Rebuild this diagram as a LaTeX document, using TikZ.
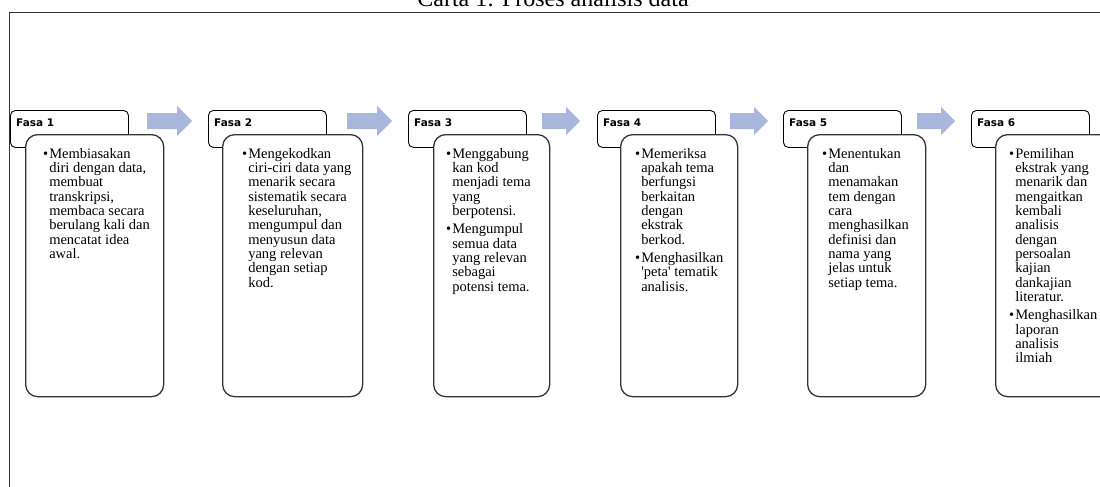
\documentclass[tikz,border=0pt]{standalone}
\usepackage{fontspec}
\setmainfont{Liberation Serif}
\newfontfamily\fasafont{DejaVu Sans}
\definecolor{fasablue}{HTML}{A9B7DC}
\definecolor{fasaline}{HTML}{333333}

\begin{document}
\begin{tikzpicture}[
    x=1pt, y=-1pt,
    fasa_head/.style={rectangle, rounded corners=5pt, draw=black, line width=0.9pt, fill=white, anchor=north west, minimum width=118pt, minimum height=37pt, inner sep=0pt},
    fasa_label/.style={anchor=base west, inner sep=0pt, font=\fasafont\bfseries\fontsize{10.5}{12}\selectfont},
    fasa_body/.style={rectangle, rounded corners=12pt, draw=fasaline, line width=1.3pt, fill=white, anchor=north west, minimum height=262pt, inner sep=0pt},
    fasa_text/.style={anchor=base west, inner sep=0pt, font=\fontsize{14.5}{14.3}\selectfont},
    fasa_arrow/.style={fill=fasablue}
]
\useasboundingbox (0,0) rectangle (1100,487);

% tajuk dan bingkai
\node[anchor=base, inner sep=0pt] (title) at (553,7) {\fontsize{24}{28}\selectfont Carta 1: Proses analisis data};
\draw[line width=1.6pt, fasaline] (9.5,500) -- (9.5,12.5) -- (1110,12.5);

% kotak tajuk fasa
\node[fasa_head] (h1) at (10,110) {};
\node[fasa_head] (h2) at (208,110) {};
\node[fasa_head] (h3) at (408,110) {};
\node[fasa_head] (h4) at (597,110) {};
\node[fasa_head] (h5) at (783,110) {};
\node[fasa_head] (h6) at (971,110) {};

\node[fasa_label] (l1) at (16,126) {Fasa 1};
\node[fasa_label] (l2) at (214,126) {Fasa 2};
\node[fasa_label] (l3) at (414,126) {Fasa 3};
\node[fasa_label] (l4) at (603,126) {Fasa 4};
\node[fasa_label] (l5) at (789,126) {Fasa 5};
\node[fasa_label] (l6) at (977,126) {Fasa 6};

% anak panah antara fasa
\fill[fasa_arrow] (147,113) -- (177,113) -- (177,106) -- (192,121) -- (177,136) -- (177,129) -- (147,129) -- cycle;
\fill[fasa_arrow] (347,113) -- (377,113) -- (377,106) -- (392,121) -- (377,136) -- (377,129) -- (347,129) -- cycle;
\fill[fasa_arrow] (542,113) -- (566,113) -- (566,107) -- (580,121) -- (566,135) -- (566,129) -- (542,129) -- cycle;
\fill[fasa_arrow] (730,113) -- (754,113) -- (754,107) -- (768,121) -- (754,135) -- (754,129) -- (730,129) -- cycle;
\fill[fasa_arrow] (917,113) -- (941,113) -- (941,107) -- (955,121) -- (941,135) -- (941,129) -- (917,129) -- cycle;

% kotak isi fasa
\node[fasa_body, minimum width=138pt] (b1) at (25,134) {};
\node[fasa_body, minimum width=140pt] (b2) at (222,134) {};
\node[fasa_body, minimum width=116pt] (b3) at (433,134) {};
\node[fasa_body, minimum width=117pt] (b4) at (620,134) {};
\node[fasa_body, minimum width=118pt] (b5) at (807,134) {};
\node[fasa_body, minimum width=140pt] (b6) at (995,134) {};

% teks isi
\node[fasa_text] (t1) at (43,158) {\begin{tabular}[t]{@{}l@{\hspace{1pt}}l@{}}
\textbullet & Membiasakan\\
 & diri dengan data,\\
 & membuat\\
 & transkripsi,\\
 & membaca secara\\
 & berulang kali dan\\
 & mencatat idea\\
 & awal.
\end{tabular}};
\node[fasa_text] (t2) at (242,158) {\begin{tabular}[t]{@{}l@{\hspace{1pt}}l@{}}
\textbullet & Mengekodkan\\
 & ciri-ciri data yang\\
 & menarik secara\\
 & sistematik secara\\
 & keseluruhan,\\
 & mengumpul dan\\
 & menyusun data\\
 & yang relevan\\
 & dengan setiap\\
 & kod.
\end{tabular}};
\node[fasa_text] (t3) at (446,158) {\begin{tabular}[t]{@{}l@{\hspace{1pt}}l@{}}
\textbullet & Menggabung\\
 & kan kod\\
 & menjadi tema\\
 & yang\\
 & berpotensi.\\[4pt]
\textbullet & Mengumpul\\
 & semua data\\
 & yang relevan\\
 & sebagai\\
 & potensi tema.
\end{tabular}};
\node[fasa_text] (t4) at (635,158) {\begin{tabular}[t]{@{}l@{\hspace{1pt}}l@{}}
\textbullet & Memeriksa\\
 & apakah tema\\
 & berfungsi\\
 & berkaitan\\
 & dengan\\
 & ekstrak\\
 & berkod.\\[4pt]
\textbullet & Menghasilkan\\
 & \textquotesingle peta\textquotesingle{} tematik\\
 & analisis.
\end{tabular}};
\node[fasa_text] (t5) at (822,158) {\begin{tabular}[t]{@{}l@{\hspace{1pt}}l@{}}
\textbullet & Menentukan\\
 & dan\\
 & menamakan\\
 & tem dengan\\
 & cara\\
 & menghasilkan\\
 & definisi dan\\
 & nama yang\\
 & jelas untuk\\
 & setiap tema.
\end{tabular}};
\node[fasa_text] (t6) at (1009,158) {\begin{tabular}[t]{@{}l@{\hspace{1pt}}l@{}}
\textbullet & Pemilihan\\
 & ekstrak yang\\
 & menarik dan\\
 & mengaitkan\\
 & kembali\\
 & analisis\\
 & dengan\\
 & persoalan\\
 & kajian\\
 & dankajian\\
 & literatur.\\[4pt]
\textbullet & Menghasilkan\\
 & laporan\\
 & analisis\\
 & ilmiah
\end{tabular}};

\end{tikzpicture}
\end{document}
